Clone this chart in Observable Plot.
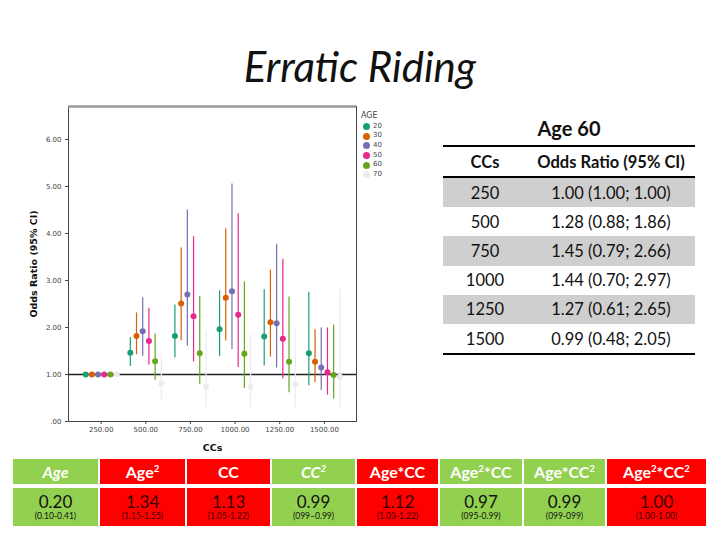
<!DOCTYPE html>
<html><head><meta charset="utf-8">
<script src="https://cdn.jsdelivr.net/npm/d3@7"></script>
<script src="https://cdn.jsdelivr.net/npm/@observablehq/plot@0.6"></script>
<style>
html,body{margin:0;padding:0;background:#fff;}
body{width:720px;height:540px;position:relative;overflow:hidden;font-family:Lato,"Open Sans",sans-serif;color:#111;}
#title{position:absolute;left:0;width:720px;top:41px;text-align:center;font-style:italic;font-size:42px;line-height:50px;}
#chart{position:absolute;left:0;top:100px;}
#legend{position:absolute;left:361px;top:111px;font-family:"DejaVu Sans",sans-serif;font-size:7px;color:#444;line-height:9.7px;}
#legend .it{display:flex;align-items:center;height:9.7px;}
#legend .sw{width:7px;height:7px;border-radius:50%;margin-left:2px;margin-right:3px;}
#agehead{position:absolute;left:443px;width:252px;top:114px;text-align:center;font-weight:bold;font-size:20px;line-height:28px;}
#agetab{position:absolute;left:443px;top:145px;width:252px;border-collapse:collapse;font-size:16.5px;}
#agetab th{font-weight:bold;height:29px;padding:0;border-top:2px solid #000;border-bottom:2px solid #000;}
#agetab td{height:29.2px;padding:0;text-align:center;}
#agetab tr.g td{background:#cfcfcf;}
#agetab tr.last td{border-bottom:2px solid #000;}
#bottom{position:absolute;left:13px;top:459px;display:grid;grid-template-columns:85px 85px 83px 83px 81px 82px 81px 99px;grid-template-rows:25px 38px;column-gap:2px;row-gap:4px;}
#bottom > div{display:flex;flex-direction:column;align-items:center;justify-content:center;text-align:center;}
#bottom .h{color:#fff;font-weight:bold;font-size:16px;}
#bottom .h span{display:block;white-space:nowrap;}
#bottom .v .n{font-size:17px;line-height:19px;}
#bottom .v .c{font-size:8.5px;line-height:11px;}
#bottom .gr{background:#92d050;}
#bottom .rd{background:#ff0000;}
#bottom .rd.v{color:#3a0000;}
sup{font-size:60%;vertical-align:super;line-height:0;}
</style></head>
<body>
<div id="title">Erratic Riding</div>
<div id="chart"></div>
<div id="legend"></div>
<div id="agehead"></div>
<table id="agetab"></table>
<div id="bottom"></div>
<script>
// ---- data ----
const ccs = [250, 500, 750, 1000, 1250, 1500];
const ages = [20, 30, 40, 50, 60, 70];
const ageColors = ["#1b9e77", "#d95f02", "#7570b3", "#e7298a", "#66a61e", "#ececec"];

const or20 = [1.00, 1.46, 1.82, 1.96, 1.81, 1.45];
const lo20 = [1.00, 1.17, 1.35, 1.38, 1.18, 0.76];
const hi20 = [1.00, 1.78, 2.48, 2.78, 2.80, 2.75];
const or30 = [1.00, 1.82, 2.51, 2.63, 2.11, 1.27];
const lo30 = [1.00, 1.42, 1.72, 1.71, 1.37, 0.83];
const hi30 = [1.00, 2.31, 3.69, 4.10, 3.22, 1.95];
const or40 = [1.00, 1.92, 2.70, 2.77, 2.09, 1.15];
const lo40 = [1.00, 1.39, 1.60, 1.53, 1.14, 0.66];
const hi40 = [1.00, 2.63, 4.50, 5.05, 3.77, 1.99];
const or50 = [1.00, 1.71, 2.24, 2.27, 1.76, 1.05];
const lo50 = [1.00, 1.20, 1.27, 1.15, 0.91, 0.56];
const hi50 = [1.00, 2.41, 3.93, 4.42, 3.45, 1.99];
const or60 = [1.00, 1.28, 1.45, 1.44, 1.27, 0.99];
const lo60 = [1.00, 0.88, 0.79, 0.70, 0.61, 0.48];
const hi60 = [1.00, 1.86, 2.66, 2.97, 2.65, 2.05];
const or70 = [1.00, 0.81, 0.74, 0.74, 0.79, 0.95];
const lo70 = [1.00, 0.45, 0.30, 0.28, 0.29, 0.30];
const hi70 = [1.00, 1.45, 1.93, 1.85, 1.97, 2.82];

const yTicks = [0, 1, 2, 3, 4, 5, 6];

const tableTitle = "Age 60";
const tableHeaders = ["CCs", "Odds Ratio (95% CI)"];
const tableCCs = ["250", "500", "750", "1000", "1250", "1500"];
const tableOR = ["1.00", "1.28", "1.45", "1.44", "1.27", "0.99"];
const tableCI = ["(1.00; 1.00)", "(0.88; 1.86)", "(0.79; 2.66)", "(0.70; 2.97)", "(0.61; 2.65)", "(0.48; 2.05)"];

const termLabels = ["<i>Age</i>", "Age<sup>2</sup>", "CC", "<i>CC<sup>2</sup></i>", "Age*CC", "Age<sup>2</sup>*CC", "Age*CC<sup>2</sup>", "Age<sup>2</sup>*CC<sup>2</sup>"];
const termOR = ["0.20", "1.34", "1.13", "0.99", "1.12", "0.97", "0.99", "1.00"];
const termCI = ["(0.10-0.41)", "(1.15-1.55)", "(1.05-1.22)", "(099–0.99)", "(1.03-1.22)", "(095-0.99)", "(099-099)", "(1.00-1.00)"];
const termSig = [false, true, true, false, true, false, false, true];

// ---- build rows ----
const series = [[or20, lo20, hi20], [or30, lo30, hi30], [or40, lo40, hi40], [or50, lo50, hi50], [or60, lo60, hi60], [or70, lo70, hi70]];
const dodge = 34.75; // CC units between neighbouring age groups
const rows = [];
ages.forEach((a, i) => {
  const [o, l, h] = series[i];
  ccs.forEach((c, j) => rows.push({age: a, cc: c, xpos: c + (i - (ages.length - 1) / 2) * dodge, or: o[j], lo: l[j], hi: h[j]}));
});
const yMax = 6.7;

const chart = Plot.plot({
  width: 400, height: 360,
  marginLeft: 68, marginRight: 44, marginTop: 6, marginBottom: 39,
  style: {fontFamily: "DejaVu Sans, sans-serif", fontSize: "7px", color: "#444", background: "transparent"},
  x: {domain: [67, 1680], ticks: ccs, tickFormat: d => d.toFixed(2), tickSize: 3, tickPadding: 3, label: "CCs", labelArrow: "none", labelAnchor: "center", labelOffset: 29},
  y: {domain: [0, yMax], ticks: yTicks, tickFormat: d => d === 0 ? ".00" : d.toFixed(2), tickSize: 3, tickPadding: 4, label: "Odds Ratio (95% CI)", labelArrow: "none", labelAnchor: "center", labelOffset: 38},
  color: {domain: ages, range: ageColors},
  marks: [
    Plot.frame({stroke: "#444", strokeWidth: 1}),
    Plot.ruleY([yMax], {stroke: "#999", strokeWidth: 2.5}),
    Plot.ruleY([1], {stroke: "#222", strokeWidth: 1.6}),
    Plot.ruleX(rows, {x: "xpos", y1: "lo", y2: "hi", stroke: "age", strokeWidth: 1.2}),
    Plot.dot(rows, {x: "xpos", y: "or", fill: "age", r: 3})
  ]
});
document.getElementById("chart").appendChild(chart);
const labs = d3.select(chart).selectAll('[aria-label$="axis label"]');
labs.attr("font-weight", "bold").attr("font-size", "9.5px").attr("fill", "#111");
labs.selectAll("text").attr("font-weight", "bold").attr("font-size", "9.5px").each(function() {
  this.textContent = this.textContent.replace(/\s*[→↑←↓]\s*/g, "").trim();
});

// legend
const leg = d3.select("#legend");
leg.append("div").style("font-size", "8px").style("margin-bottom", "1px").text("AGE");
ages.forEach((a, i) => {
  const it = leg.append("div").attr("class", "it");
  it.append("div").attr("class", "sw").style("background", ageColors[i]);
  it.append("span").text(a);
});

// right table
d3.select("#agehead").text(tableTitle);
const tab = d3.select("#agetab");
const hr = tab.append("tr");
hr.append("th").style("width", "84px").text(tableHeaders[0]);
hr.append("th").text(tableHeaders[1]);
tableCCs.forEach((c, i) => {
  const tr = tab.append("tr").attr("class", (i % 2 === 0 ? "g" : "") + (i === tableCCs.length - 1 ? " last" : ""));
  tr.append("td").text(c);
  tr.append("td").html(`${tableOR[i]} ${tableCI[i]}`);
});

// bottom table
const bt = d3.select("#bottom");
termLabels.forEach((t, i) => bt.append("div").attr("class", "h " + (termSig[i] ? "rd" : "gr")).append("span").html(t));
termOR.forEach((v, i) => {
  const cell = bt.append("div").attr("class", "v " + (termSig[i] ? "rd" : "gr"));
  cell.append("span").attr("class", "n").text(v);
  cell.append("span").attr("class", "c").text(termCI[i]);
});
</script>
</body></html>
